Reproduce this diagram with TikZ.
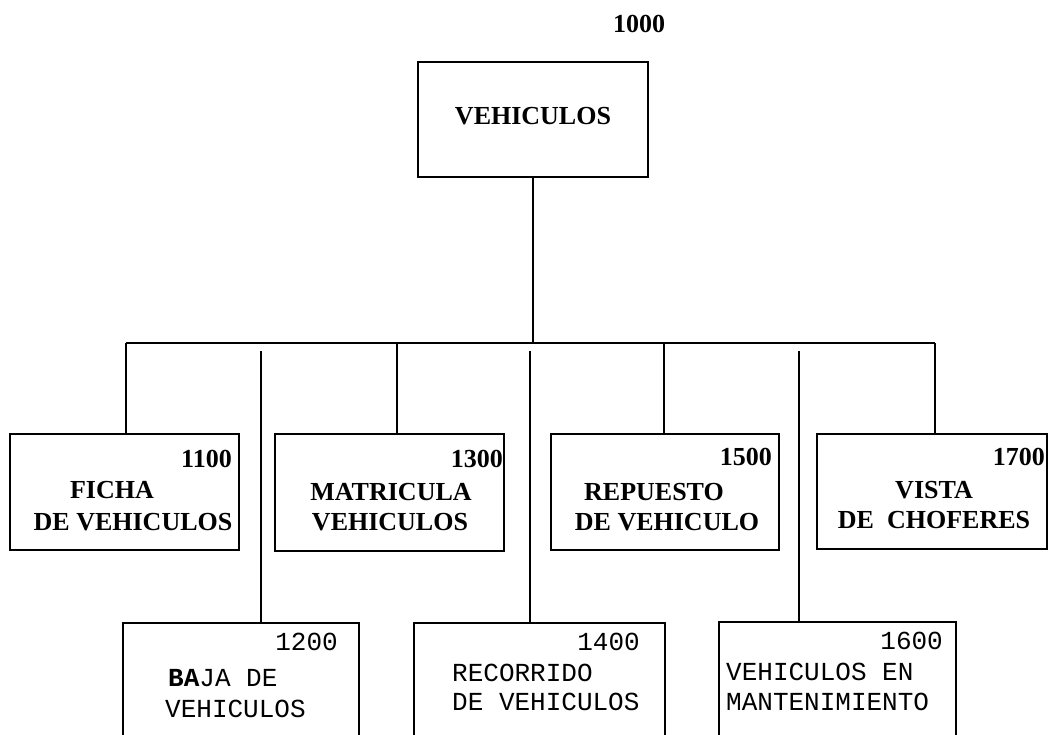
\documentclass[tikz,border=0pt]{standalone}
\usepackage{fontspec}
\setmainfont{Liberation Serif}
\newfontfamily\monof{Liberation Mono}
\begin{document}
\begin{tikzpicture}[x=1pt,y=-1pt,
  box/.style={draw, line width=1.6pt, inner sep=0, outer sep=0, anchor=north west},
  link/.style={line width=1.5pt},
  ser/.style={inner sep=0, font=\fontsize{26}{30}\selectfont\bfseries},
  mon/.style={inner sep=0, font=\fontsize{26}{30}\selectfont\monof},
]
\useasboundingbox (0,0) rectangle (1049,735);
\clip (0,0) rectangle (1049,735);

% boxes
\node[box, minimum width=230, minimum height=115] (top) at (418,62) {};
\node[box, minimum width=229, minimum height=116] (b1100) at (10,434) {};
\node[box, minimum width=229, minimum height=117] (b1300) at (275,434) {};
\node[box, minimum width=228, minimum height=116] (b1500) at (551,434) {};
\node[box, minimum width=230, minimum height=115] (b1700) at (817,434) {};
\node[box, minimum width=236, minimum height=130] (b1200) at (123,623) {};
\node[box, minimum width=251, minimum height=130] (b1400) at (414,623) {};
\node[box, minimum width=237, minimum height=130] (b1600) at (719,622) {};

% bus coordinates
\coordinate (jm) at (533,343);
\coordinate (j1) at (126,343);
\coordinate (j3) at (397,343);
\coordinate (j5) at (664,343);
\coordinate (j7) at (935,343);
\coordinate (c1200) at (261,351);
\coordinate (c1400) at (530,351);
\coordinate (c1600) at (799,351);

% connectors
\draw[link] (top.south -| jm) -- (jm);
\draw[link] (j1) -- (j7);
\draw[link] (j1) -- (j1 |- b1100.north);
\draw[link] (j3) -- (j3 |- b1300.north);
\draw[link] (j5) -- (j5 |- b1500.north);
\draw[link] (j7) -- (j7 |- b1700.north);
\draw[link] (c1200) -- (c1200 |- b1200.north);
\draw[link] (c1400) -- (c1400 |- b1400.north);
\draw[link] (c1600) -- (c1600 |- b1600.north);

% top
\node[ser, anchor=base] (n1000) at (639,33) {1000};
\node[ser, anchor=base] (t1000) at (533,125) {VEHICULOS};

% 1100
\node[ser, anchor=base east] (n1100) at (232,467) {1100};
\node[ser, anchor=base] (t1100a) at (112,498) {FICHA};
\node[ser, anchor=base] (t1100b) at (133,530) {DE VEHICULOS};
% 1300
\node[ser, anchor=base east] (n1300) at (503,467) {1300};
\node[ser, anchor=base] (t1300a) at (391,500) {MATRICULA};
\node[ser, anchor=base] (t1300b) at (390,530) {VEHICULOS};
% 1500
\node[ser, anchor=base east] (n1500) at (772,465) {1500};
\node[ser, anchor=base] (t1500a) at (654,500) {REPUESTO};
\node[ser, anchor=base] (t1500b) at (667,530) {DE VEHICULO};
% 1700
\node[ser, anchor=base east] (n1700) at (1045,465) {1700};
\node[ser, anchor=base] (t1700a) at (934,498) {VISTA};
\node[ser, anchor=base] (t1700b) at (934,528) {DE~~CHOFERES};

% 1200
\node[mon, anchor=base east] (n1200) at (338,650) {1200};
\node[mon, anchor=base west] (t1200a) at (168,686) {{\bfseries BA}JA DE};
\node[mon, anchor=base west] (t1200b) at (165,717) {VEHICULOS};
% 1400
\node[mon, anchor=base east] (n1400) at (640,650) {1400};
\node[mon, anchor=base west] (t1400a) at (452,681) {RECORRIDO};
\node[mon, anchor=base west] (t1400b) at (452,710) {DE VEHICULOS};
% 1600
\node[mon, anchor=base east] (n1600) at (943,649) {1600};
\node[mon, anchor=base west] (t1600a) at (726,680) {VEHICULOS EN};
\node[mon, anchor=base west] (t1600b) at (726,710) {MANTENIMIENTO};
\end{tikzpicture}
\end{document}
